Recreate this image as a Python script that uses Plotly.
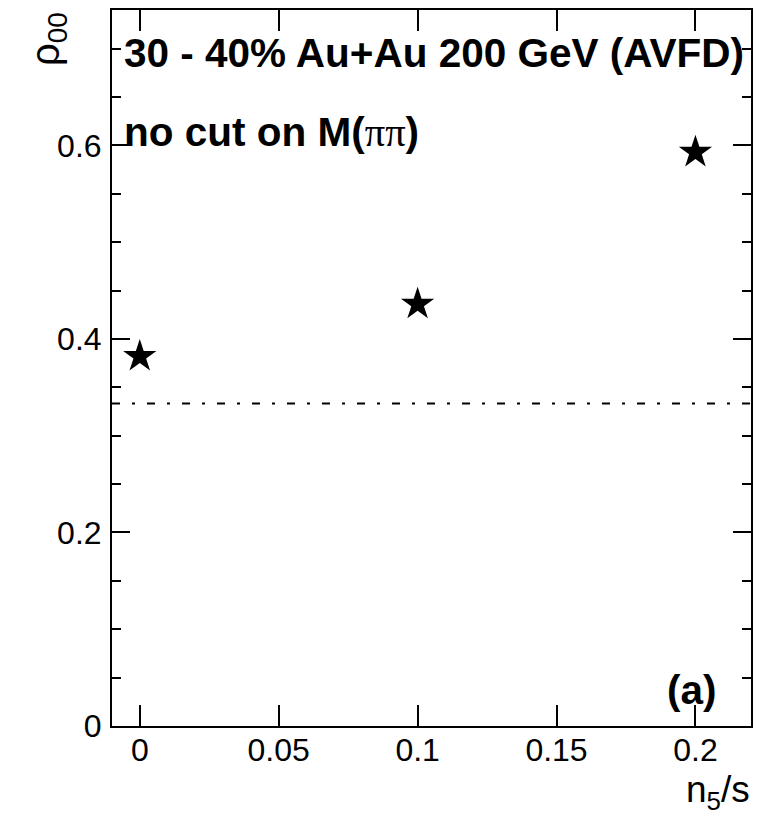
import plotly.graph_objects as go

# data
n5_over_s = [0.0, 0.1, 0.2]
rho00 = [0.382, 0.436, 0.593]
rho00_reference = 1.0 / 3.0
x_range = [-0.01, 0.22]
y_range = [0.0, 0.74]

fig = go.Figure()
fig.add_trace(go.Scatter(
    x=n5_over_s, y=rho00, mode="markers",
    marker=dict(symbol="star", size=25, color="black", line=dict(width=0)),
    showlegend=False, cliponaxis=False,
))
fig.add_hline(y=rho00_reference, line=dict(color="black", width=2, dash="8px,12px,3px,12px"))

axis_common = dict(
    showline=True, linecolor="black", linewidth=2, mirror="allticks",
    ticks="inside", tickcolor="black", tickwidth=2,
    showgrid=False, zeroline=False,
    tickfont=dict(family="Liberation Sans", size=32, color="black"),
)
fig.update_xaxes(range=x_range, dtick=0.05, tick0=0, ticklen=21, ticklabelstandoff=-5, **axis_common)
fig.update_yaxes(range=y_range, dtick=0.2, tick0=0, ticklen=18, ticklabelstandoff=2,
                 minor=dict(dtick=0.05, ticklen=9, ticks="inside", tickcolor="black", tickwidth=2, showgrid=False),
                 **axis_common)

bold = dict(family="Liberation Sans", size=40.5, color="black")
fig.add_annotation(xref="paper", yref="paper", x=0.016, y=0.94, xanchor="left", yanchor="middle",
                   text="<b>30 - 40% Au+Au 200 GeV (AVFD)</b>", showarrow=False, font=bold)
fig.add_annotation(xref="paper", yref="paper", x=0.016, y=0.829, xanchor="left", yanchor="middle",
                   text="<b>no cut on M(</b><span style='font-family:Liberation Serif'>ππ</span><b>)</b>",
                   showarrow=False, font=bold)
fig.add_annotation(xref="paper", yref="paper", x=0.908, y=0.05, xanchor="center", yanchor="middle",
                   text="<b>(a)</b>", showarrow=False, font=bold)

fig.add_annotation(xref="paper", yref="paper", x=1.002, y=-0.057, xanchor="right", yanchor="top",
                   text="n<sub>5</sub>/s", showarrow=False,
                   font=dict(family="Liberation Sans", size=37, color="black"))
fig.add_annotation(xref="paper", yref="paper", x=-0.1, y=1.0, xanchor="center", yanchor="top",
                   text="ρ<sub>00</sub>", textangle=-90, showarrow=False,
                   font=dict(family="Liberation Sans", size=40, color="black"))

fig.update_layout(
    width=761, height=816,
    margin=dict(l=112, r=8, t=10, b=90),
    paper_bgcolor="white", plot_bgcolor="white",
)
fig.write_html("out.html")
